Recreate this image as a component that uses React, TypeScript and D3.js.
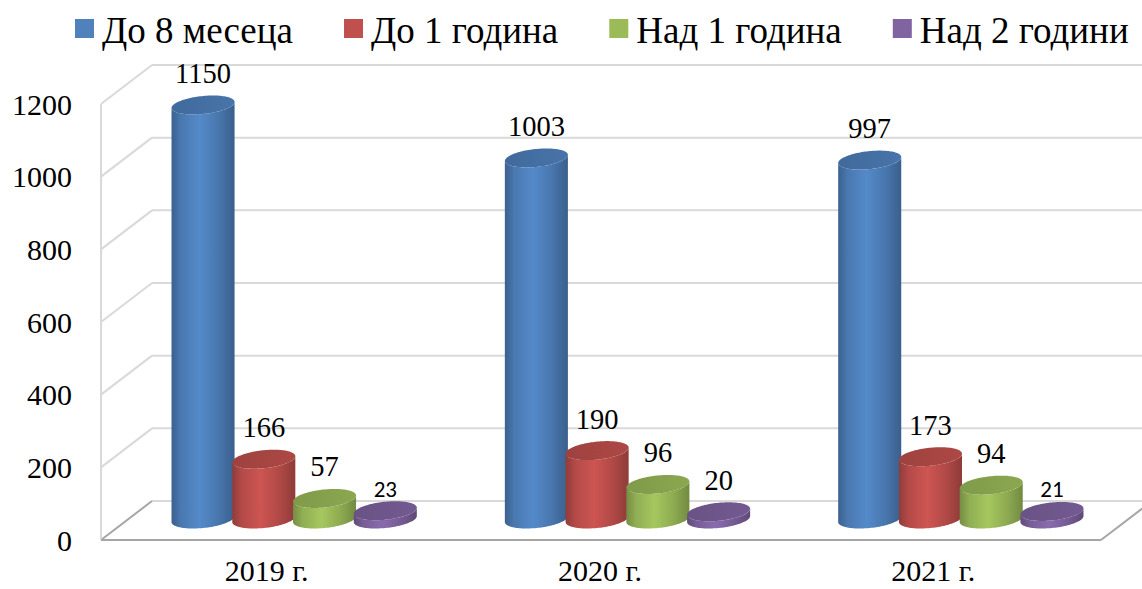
import React, { useMemo } from "react";
import * as d3 from "d3";

const categories = ["2019 г.", "2020 г.", "2021 г."];
const seriesNames = ["До 8 месеца", "До 1 година", "Над 1 година", "Над 2 години"];
const seriesColors = ["#4f81bd", "#c0504d", "#9bbb59", "#8064a2"];
const upTo8Months = [1150, 1003, 997];
const upTo1Year = [166, 190, 173];
const over1Year = [57, 96, 94];
const over2Years = [23, 20, 21];
const seriesValues = [upTo8Months, upTo1Year, over1Year, over2Years];
const yTicks = [0, 200, 400, 600, 800, 1000, 1200];
// labels rendered in the sans (Calibri-like) font in the original
const sansLabels = [[false, false, false], [false, false, false], [false, false, false], [true, false, true]];

const W = 1142;
const H = 589;
const SERIF = "'Liberation Serif', 'Times New Roman', serif";
const SANS = "Carlito, Lato, 'Liberation Sans', sans-serif";

function measure(text: string, font: string): number {
  if (typeof document === "undefined") return text.length * 18;
  const c = document.createElement("canvas");
  const ctx = c.getContext("2d");
  if (!ctx) return text.length * 18;
  ctx.font = font;
  return ctx.measureText(text).width;
}

export default function App() {
  if (typeof document !== "undefined") document.body.style.margin = "0";

  const x0 = 101, x1 = 1101;
  const depth = { dx: 51, dy: -39 };
  const xBand = d3.scaleBand<string>().domain(categories).range([x0, x1]).padding(0);
  const yFront = d3.scaleLinear().domain([0, 1200]).range([540, 104]);
  const yBack = (v: number) => yFront(v) + depth.dy;
  const yCyl = d3.scaleLinear().domain([0, 1200]).range([519, 87]);

  const a = 10, b = 9.5, r = 29.9;
  const tR = Math.atan2(a, r);
  const tL = tR + Math.PI;
  const pt = (cx: number, cy: number, t: number): [number, number] => [
    cx + r * Math.cos(t) + a * Math.sin(t),
    cy - b * Math.sin(t),
  ];
  const line = d3.line();

  const N = 60;
  function sidePath(cx: number, yTop: number, yBot: number) {
    const pts: [number, number][] = [];
    pts.push(pt(cx, yTop, tL));
    for (let i = 0; i <= N; i++) {
      const t = tL + (i / N) * (2 * Math.PI + tR - tL);
      pts.push(pt(cx, yBot, t));
    }
    for (let i = 0; i <= N; i++) {
      const t = 2 * Math.PI + tR - (i / N) * (2 * Math.PI + tR - tL);
      pts.push(pt(cx, yTop, t));
    }
    return line(pts) + "Z";
  }
  function topPath(cx: number, yTop: number) {
    const pts: [number, number][] = [];
    for (let i = 0; i < 2 * N; i++) pts.push(pt(cx, yTop, (i / (2 * N)) * 2 * Math.PI));
    return line(pts) + "Z";
  }

  const legendFontSize = 37;
  const legend = useMemo(() => {
    const font = `${legendFontSize}px 'Liberation Serif'`;
    let x = 75;
    return seriesNames.map((name, i) => {
      const w = measure(name, font);
      const item = { name, x, color: seriesColors[i], w };
      x = x + 27 + w + 51;
      return item;
    });
  }, []);

  const cyls: any[] = [];
  categories.forEach((cat, ci) => {
    const gc = (xBand(cat) as number) + xBand.bandwidth() / 2 + 26.5;
    const sBand = d3.scaleBand<number>().domain([0, 1, 2, 3]).range([gc - 121.5, gc + 121.5]);
    seriesValues.forEach((vals, si) => {
      const cx = (sBand(si) as number) + sBand.bandwidth() / 2;
      cyls.push({ ci, si, cx, v: vals[ci], yTop: yCyl(vals[ci]), yBot: yCyl(0) });
    });
  });

  const floorColor = "#a6a6a6";
  const gridColor = "#d9d9d9";
  const serifStyle = { fontFamily: SERIF };

  return (
    <svg width={W} height={H} style={{ position: "absolute", left: 0, top: 0, background: "#fff" }}>
      <defs>
        {seriesColors.map((c, i) => {
          const col = d3.color(c) as d3.RGBColor;
          return (
            <React.Fragment key={i}>
              <linearGradient id={`side${i}`} x1="0" x2="1" y1="0" y2="0">
                <stop offset="0%" stopColor={col.darker(0.8).formatHex()} />
                <stop offset="15%" stopColor={col.darker(0.2).formatHex()} />
                <stop offset="45%" stopColor={col.brighter(0.18).formatHex()} />
                <stop offset="75%" stopColor={col.darker(0.25).formatHex()} />
                <stop offset="100%" stopColor={col.darker(0.85).formatHex()} />
              </linearGradient>
              <linearGradient id={`top${i}`} x1="0" x2="1" y1="0" y2="0">
                <stop offset="0%" stopColor={col.darker(0.55).formatHex()} />
                <stop offset="100%" stopColor={col.darker(0.3).formatHex()} />
              </linearGradient>
            </React.Fragment>
          );
        })}
      </defs>

      {yTicks.map((t) => (
        <line key={`g${t}`} x1={x0 + depth.dx} x2={x1 + depth.dx} y1={yBack(t)} y2={yBack(t)} stroke={gridColor} strokeWidth={2} />
      ))}
      {yTicks.map((t) => (
        <line key={`d${t}`} x1={x0} x2={x0 + depth.dx} y1={yFront(t)} y2={yBack(t)} stroke={t === 0 ? floorColor : gridColor} strokeWidth={2} />
      ))}
      <line x1={x0} x2={x0} y1={yFront(1200)} y2={yFront(0)} stroke={gridColor} strokeWidth={2} />
      <line x1={x0} x2={x1} y1={yFront(0)} y2={yFront(0)} stroke={floorColor} strokeWidth={2} />
      <line x1={x1} x2={x1 + depth.dx} y1={yFront(0)} y2={yBack(0)} stroke={floorColor} strokeWidth={2} />

      {yTicks.map((t) => (
        <text key={`t${t}`} x={72} y={yFront(t)} dy="0.35em" textAnchor="end" style={serifStyle} fontSize={30} fill="#000">
          {t}
        </text>
      ))}

      {categories.map((c) => (
        <text key={c} x={(xBand(c) as number) + xBand.bandwidth() / 2 - 1} y={581} textAnchor="middle" style={serifStyle} fontSize={30} fill="#000">
          {c}
        </text>
      ))}

      {cyls.map((d, i) => (
        <g key={`c${i}`}>
          <path d={sidePath(d.cx, d.yTop, d.yBot)} fill={`url(#side${d.si})`} />
          <path d={topPath(d.cx, d.yTop)} fill={`url(#top${d.si})`} />
        </g>
      ))}

      {cyls.map((d, i) => {
        const sans = sansLabels[d.si][d.ci];
        return (
          <text key={`v${i}`} x={d.cx} y={d.yTop - (sans ? 14 : 22)} textAnchor="middle" style={{ fontFamily: sans ? SANS : SERIF }} fontSize={sans ? 23 : 28.5} fill="#000">
            {d.v}
          </text>
        );
      })}

      {legend.map((l) => (
        <g key={l.name}>
          <rect x={l.x} y={19} width={19} height={19} fill={l.color} />
          <text x={l.x + 27} y={43} style={serifStyle} fontSize={legendFontSize} fill="#000">
            {l.name}
          </text>
        </g>
      ))}
    </svg>
  );
}
